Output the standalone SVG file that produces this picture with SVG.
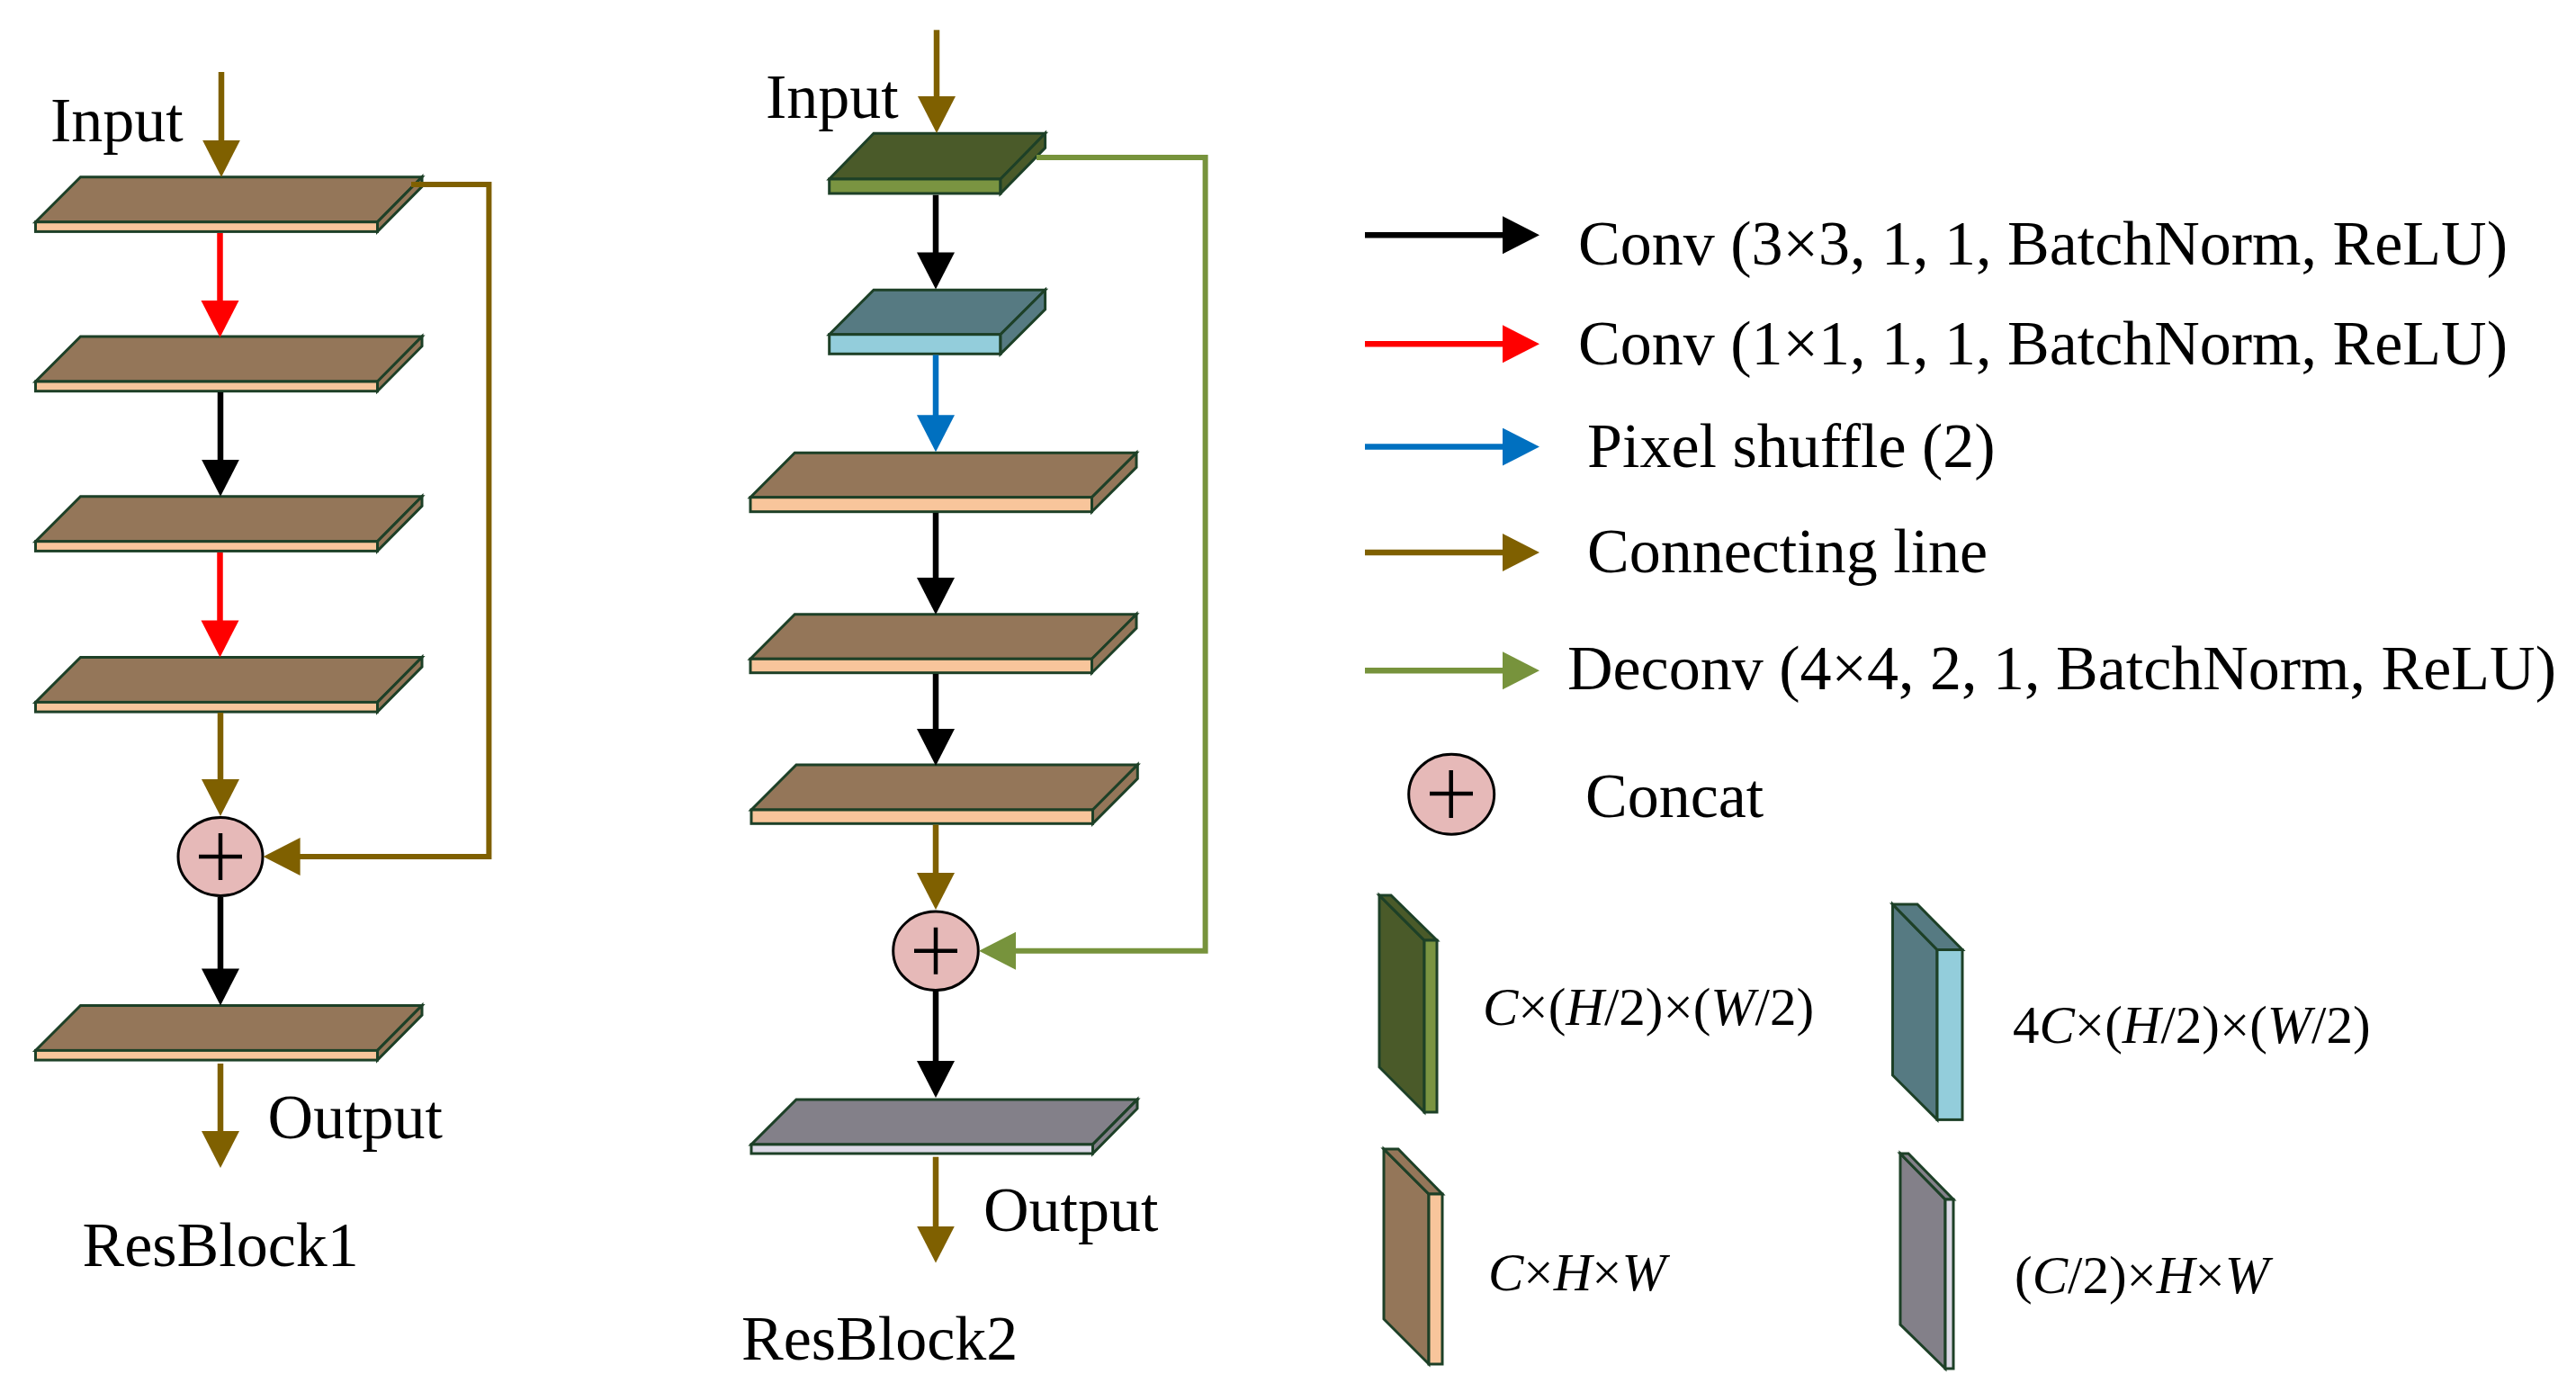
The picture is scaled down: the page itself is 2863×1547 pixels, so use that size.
<svg xmlns="http://www.w3.org/2000/svg" width="2863" height="1547" viewBox="0 0 2863 1547">
<style>
.t{font-family:"Liberation Serif","Times New Roman",serif;font-size:70px;fill:#000}
.d{font-family:"Liberation Serif","Times New Roman",serif;font-size:59px;fill:#000}
.i{font-style:italic}
.s{stroke:#1d4027;stroke-width:3;stroke-linejoin:miter}
.br{fill:#947659}.pe{fill:#f8c59b}
.dg{fill:#4a5a29}.lg{fill:#7a9441}
.tl{fill:#567a82}.lt{fill:#93cddb}
.gy{fill:#838089}.lv{fill:#dcd9e6}
.ln{fill:none;stroke-width:6.5;stroke-linecap:butt}
.k{stroke:#000}.r{stroke:#ff0000}.b{stroke:#0070c0}.o{stroke:#7f6000}.g{stroke:#77933c}
.sk{fill:none;stroke-width:6;stroke-linejoin:miter}
.cc{fill:#e6b9b8;stroke:#000;stroke-width:3}
.pl{stroke:#000;stroke-width:4.5;fill:none}
</style>
<defs>
<marker id="mk" markerUnits="userSpaceOnUse" markerWidth="44" markerHeight="44" refX="1" refY="21" orient="auto" viewBox="0 0 44 44"><path d="M0,0 L41,21 L0,42 Z" fill="#000"/></marker>
<marker id="mr" markerUnits="userSpaceOnUse" markerWidth="44" markerHeight="44" refX="1" refY="21" orient="auto" viewBox="0 0 44 44"><path d="M0,0 L41,21 L0,42 Z" fill="#ff0000"/></marker>
<marker id="mb" markerUnits="userSpaceOnUse" markerWidth="44" markerHeight="44" refX="1" refY="21" orient="auto" viewBox="0 0 44 44"><path d="M0,0 L41,21 L0,42 Z" fill="#0070c0"/></marker>
<marker id="mo" markerUnits="userSpaceOnUse" markerWidth="44" markerHeight="44" refX="1" refY="21" orient="auto" viewBox="0 0 44 44"><path d="M0,0 L41,21 L0,42 Z" fill="#7f6000"/></marker>
<marker id="mg" markerUnits="userSpaceOnUse" markerWidth="44" markerHeight="44" refX="1" refY="21" orient="auto" viewBox="0 0 44 44"><path d="M0,0 L41,21 L0,42 Z" fill="#77933c"/></marker>
</defs>
<rect width="2863" height="1547" fill="#fff"/>

<!-- ResBlock1 nodes -->
<g id="rb1-slab1">
<path class="s br" d="M89.5,196.7 H469 L419.5,246.7 H39.5 Z"/>
<rect class="s pe" x="39.5" y="246.7" width="380" height="10.7"/>
<path class="s br" d="M469,196.7 V207.4 L419.5,257.4 V246.7 Z"/>
</g>
<g id="rb1-slab2">
<path class="s br" d="M89.5,374 H469 L419.5,424 H39.5 Z"/>
<rect class="s pe" x="39.5" y="424" width="380" height="10.7"/>
<path class="s br" d="M469,374 V384.7 L419.5,434.7 V424 Z"/>
</g>
<g id="rb1-slab3">
<path class="s br" d="M89.5,551.7 H469 L419.5,601.7 H39.5 Z"/>
<rect class="s pe" x="39.5" y="601.7" width="380" height="10.7"/>
<path class="s br" d="M469,551.7 V562.4 L419.5,612.4 V601.7 Z"/>
</g>
<g id="rb1-slab4">
<path class="s br" d="M89.5,730.4 H469 L419.5,780.4 H39.5 Z"/>
<rect class="s pe" x="39.5" y="780.4" width="380" height="10.7"/>
<path class="s br" d="M469,730.4 V741.1 L419.5,791.1 V780.4 Z"/>
</g>
<g id="rb1-concat">
<ellipse class="cc" cx="245" cy="952" rx="47" ry="43.5"/>
<path class="pl" d="M221,952 H269 M245,926 V978"/>
</g>
<g id="rb1-slab5">
<path class="s br" d="M89.5,1117.4 H469 L419.5,1167.4 H39.5 Z"/>
<rect class="s pe" x="39.5" y="1167.4" width="380" height="10.7"/>
<path class="s br" d="M469,1117.4 V1128.1 L419.5,1178.1 V1167.4 Z"/>
</g>

<!-- ResBlock2 nodes -->
<g id="rb2-slabA">
<path class="s dg" d="M971,148.3 H1161.6 L1112,199 H921.7 Z"/>
<rect class="s lg" x="921.7" y="199" width="190.3" height="16"/>
<path class="s dg" d="M1161.6,148.3 V164.3 L1112,215 V199 Z"/>
</g>
<g id="rb2-slabB">
<path class="s tl" d="M971,322.3 H1161.6 L1112,371.7 H921.7 Z"/>
<rect class="s lt" x="921.7" y="371.7" width="190.3" height="21.6"/>
<path class="s tl" d="M1161.6,322.3 V343.9 L1112,393.3 V371.7 Z"/>
</g>
<g id="rb2-slabC">
<path class="s br" d="M883.3,503.3 H1263 L1213.5,552.7 H834 Z"/>
<rect class="s pe" x="834" y="552.7" width="379.5" height="16"/>
<path class="s br" d="M1263,503.3 V519.3 L1213.5,568.7 V552.7 Z"/>
</g>
<g id="rb2-slabD">
<path class="s br" d="M883.3,682.7 H1263 L1213.5,732.3 H834 Z"/>
<rect class="s pe" x="834" y="732.3" width="379.5" height="15.4"/>
<path class="s br" d="M1263,682.7 V698.1 L1213.5,747.7 V732.3 Z"/>
</g>
<g id="rb2-slabE">
<path class="s br" d="M885,850 H1264.3 L1214.5,900 H835 Z"/>
<rect class="s pe" x="835" y="900" width="379.5" height="15.3"/>
<path class="s br" d="M1264.3,850 V865.3 L1214.5,915.3 V900 Z"/>
</g>
<g id="rb2-concat">
<ellipse class="cc" cx="1040" cy="1056.7" rx="47.3" ry="43.8"/>
<path class="pl" d="M1016,1056.7 H1064 M1040,1030.7 V1082.7"/>
</g>
<g id="rb2-slabF">
<path class="s gy" d="M885,1221.9 H1264 L1214.5,1271.9 H835 Z"/>
<rect class="s lv" x="835" y="1271.9" width="379.5" height="10.1"/>
<path class="s gy" d="M1264,1221.9 V1232 L1214.5,1282 V1271.9 Z"/>
</g>

<!-- connectors -->
<g id="connectors">
<!-- ResBlock1 -->
<line class="ln o" x1="246" y1="80" x2="246" y2="156.7" marker-end="url(#mo)"/>
<line class="ln r" x1="244.5" y1="259" x2="244.5" y2="335" marker-end="url(#mr)"/>
<line class="ln k" x1="245" y1="436" x2="245" y2="511.7" marker-end="url(#mk)"/>
<line class="ln r" x1="244.5" y1="614" x2="244.5" y2="690.4" marker-end="url(#mr)"/>
<line class="ln o" x1="245" y1="792" x2="245" y2="867" marker-end="url(#mo)"/>
<line class="ln k" x1="245" y1="997" x2="245" y2="1077.4" marker-end="url(#mk)"/>
<line class="ln o" x1="245" y1="1182" x2="245" y2="1258" marker-end="url(#mo)"/>
<path class="sk o" d="M457,205 H543.4 V952 H332.6" marker-end="url(#mo)"/>
<!-- ResBlock2 -->
<line class="ln o" x1="1041" y1="33.3" x2="1041" y2="108" marker-end="url(#mo)"/>
<line class="ln k" x1="1040" y1="216.7" x2="1040" y2="281.4" marker-end="url(#mk)"/>
<line class="ln b" x1="1040" y1="394.5" x2="1040" y2="462.3" marker-end="url(#mb)"/>
<line class="ln k" x1="1040" y1="570" x2="1040" y2="643" marker-end="url(#mk)"/>
<line class="ln k" x1="1040" y1="749" x2="1040" y2="811" marker-end="url(#mk)"/>
<line class="ln o" x1="1040" y1="916.5" x2="1040" y2="971" marker-end="url(#mo)"/>
<line class="ln k" x1="1040" y1="1101" x2="1040" y2="1180" marker-end="url(#mk)"/>
<line class="ln o" x1="1040" y1="1285.7" x2="1040" y2="1363.6" marker-end="url(#mo)"/>
<path class="sk g" d="M1152,175 H1339.6 V1056.7 H1128" marker-end="url(#mg)"/>
</g>

<!-- labels -->
<g id="labels">
<text class="t" x="56" y="156.7">Input</text>
<text class="t" x="297.6" y="1264.7">Output</text>
<text class="t" x="91.5" y="1406.7">ResBlock1</text>
<text class="t" x="851" y="131">Input</text>
<text class="t" x="1093" y="1368">Output</text>
<text class="t" x="824" y="1511">ResBlock2</text>
</g>

<!-- legend -->
<g id="legend-conv3">
<line class="ln k" x1="1517" y1="261.2" x2="1671" y2="261.2" marker-end="url(#mk)"/>
<text class="t" x="1754" y="293.8">Conv (3×3, 1, 1, BatchNorm, ReLU)</text>
</g>
<g id="legend-conv1">
<line class="ln r" x1="1517" y1="382.2" x2="1671" y2="382.2" marker-end="url(#mr)"/>
<text class="t" x="1754" y="404.7">Conv (1×1, 1, 1, BatchNorm, ReLU)</text>
</g>
<g id="legend-pixel">
<line class="ln b" x1="1517" y1="496.6" x2="1671" y2="496.6" marker-end="url(#mb)"/>
<text class="t" x="1764" y="518.8">Pixel shuffle (2)</text>
</g>
<g id="legend-connect">
<line class="ln o" x1="1517" y1="614" x2="1671" y2="614" marker-end="url(#mo)"/>
<text class="t" x="1764" y="636.3">Connecting line</text>
</g>
<g id="legend-deconv">
<line class="ln g" x1="1517" y1="745.3" x2="1671" y2="745.3" marker-end="url(#mg)"/>
<text class="t" x="1742" y="765.6">Deconv (4×4, 2, 1, BatchNorm, ReLU)</text>
</g>
<g id="legend-concat">
<ellipse class="cc" cx="1613.2" cy="882.8" rx="47.5" ry="44.5"/>
<path class="pl" d="M1589,882 H1637 M1612.7,856 V909"/>
<text class="t" x="1762" y="908.3">Concat</text>
</g>
<g id="legend-green">
<path class="s dg" d="M1533,995 L1583,1045 V1236 L1533,1186 Z"/>
<path class="s dg" d="M1533,995 H1546 L1597,1045 H1583 Z"/>
<rect class="s lg" x="1583" y="1045" width="14" height="191"/>
<text class="d" x="1648" y="1138.5"><tspan class="i">C</tspan>×(<tspan class="i">H</tspan>/2)×(<tspan class="i">W</tspan>/2)</text>
</g>
<g id="legend-teal">
<path class="s tl" d="M2103.5,1005 L2153,1055.5 V1244.4 L2103.5,1195 Z"/>
<path class="s tl" d="M2103.5,1005 H2131 L2181,1055.5 H2153 Z"/>
<rect class="s lt" x="2153" y="1055.5" width="28" height="188.9"/>
<text class="d" x="2237" y="1159.4">4<tspan class="i">C</tspan>×(<tspan class="i">H</tspan>/2)×(<tspan class="i">W</tspan>/2)</text>
</g>
<g id="legend-brown">
<path class="s br" d="M1538,1277 L1588,1327 V1516 L1538,1466 Z"/>
<path class="s br" d="M1538,1277 H1554 L1603,1327 H1588 Z"/>
<rect class="s pe" x="1588" y="1327" width="15" height="189"/>
<text class="d" x="1654" y="1433.6"><tspan class="i">C</tspan>×<tspan class="i">H</tspan>×<tspan class="i">W</tspan></text>
</g>
<g id="legend-gray">
<path class="s gy" d="M2112,1282 L2162,1333 V1521 L2112,1472 Z"/>
<path class="s gy" d="M2112,1282 H2121 L2171,1333 H2162 Z"/>
<rect class="s lv" x="2162" y="1333" width="9" height="188"/>
<text class="d" x="2239" y="1437.4">(<tspan class="i">C</tspan>/2)×<tspan class="i">H</tspan>×<tspan class="i">W</tspan></text>
</g>
</svg>
